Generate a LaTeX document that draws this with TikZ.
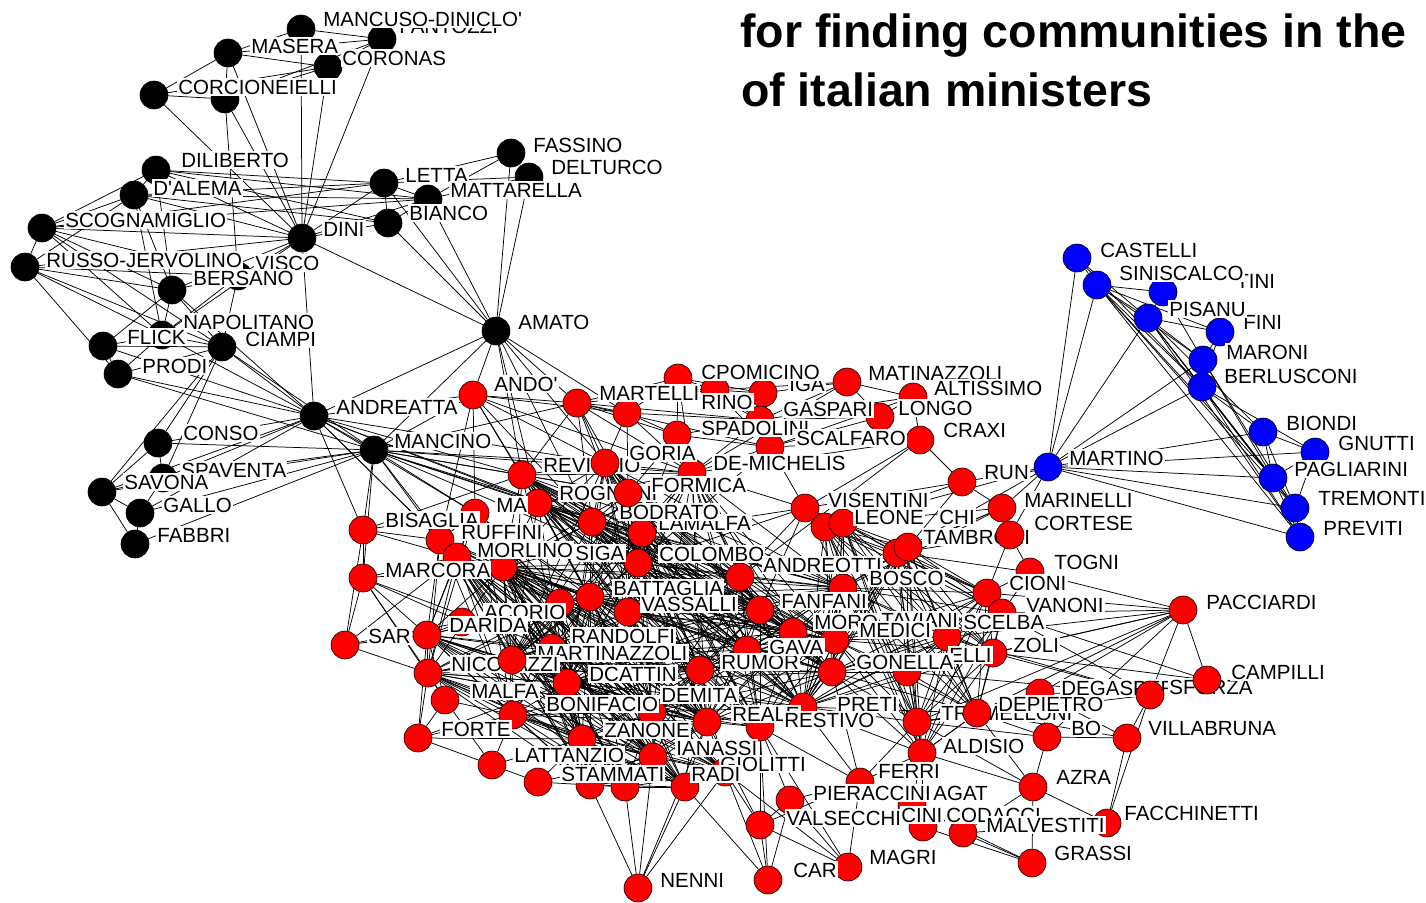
\documentclass[tikz,border=0pt]{standalone}
\usepackage{fontspec}
\setmainfont{Liberation Sans}
\newcommand\vlabelfont{\fontsize{20.5}{20.5}\selectfont}
\newcommand\headfont{\fontsize{46.5}{46.5}\selectfont\bfseries}
% every pair of the listed vertices gets a line
\newcommand\cliquelinks[1]{%
  \foreach \ca [count=\ci] in {#1}{%
    \foreach \cb [count=\cj] in {#1}{%
      \ifnum\cj>\ci\relax \draw[edge] (\ca) -- (\cb);\fi}}}
\pgfdeclarelayer{edges}
\pgfdeclarelayer{front}
\pgfsetlayers{edges,main,front}
\begin{document}
\begin{tikzpicture}[x=1pt,y=-1pt,
  vtx/.style={circle,draw=black,line width=0.6pt,minimum size=28pt,inner sep=0pt},
  vb/.style={vtx,fill=black},
  vr/.style={vtx,fill=red},
  vu/.style={vtx,fill=blue},
  lab/.style={anchor=west,fill=white,inner sep=1.2pt,text height=14.7pt,text depth=0.3pt,font=\vlabelfont},
  edge/.style={line width=0.75pt,black},
  head/.style={anchor=base west,inner sep=0pt,font=\headfont}]
\useasboundingbox (0,0) rectangle (1426,902);

% ---------- title ----------
\node[head] (t1) at (740,47) {for finding communities in the};
\node[head] (t2) at (741,106) {of italian ministers};

% ---------- vertices ----------
\foreach \n/\x/\y in {bMan/301/29, bFan/382/39, bMas/228/53, bCor/328/67, bCrc/154/95,
  bX1/225/99, bDil/156/170, bDal/134/195, bSco/42/228, bRus/25/267, bVis/238/276,
  bDin/302/238, bBia/388/223, bLet/384/183, bMat/428/199, bFas/511/153, bDel/529/177,
  bBer/172/290, bNap/162/335, bCia/222/347, bFli/103/346, bPro/118/374, bAma/496/331,
  bAnd/314/416, bMnc/374/450, bCon/158/443, bSpa/163/478, bSav/102/492, bGal/140/513,
  bFab/135/544}
  \node[vb] (\n) at (\x,\y) {};

\foreach \n/\x/\y in {rAndo/473/395, rMart/577/403, rQ1/627/413, rCpo/678/378, rQ2/715/390,
  rQ3/763/393, rMtz/847/382, rAlt/913/397, rGas/760/420, rLon/880/417, rCra/920/440,
  rSpd/677/435, rSca/770/447, rDem/692/473, rRev/522/475, rRog/538/503, rBod/592/522,
  rMa/475/513, rBis/363/530, rRuf/440/540, rLam/642/533, rMor/457/557, rSig/503/567,
  rCol/638/563, rMrc/363/578, rBat/590/597, rVas/628/612, rX7/560/603, rAco/462/622,
  rDar/427/635, rSar/345/645, rRan/552/648, rNic/428/673, rDca/567/683, rRum/700/670,
  rMal/445/700, rBon/513/715, rDmt/652/712, rFor2/418/738, rZan/582/739, rLat/492/765,
  rIan/653/757, rSta/538/782, rS1/590/785, rS2/625/787, rRad/685/787, rGio/725/772,
  rRea/707/722, rRes/760/727, rPre/803/707, rT1/917/722, rDeg/1040/693, rBo/1047/737,
  rVil/1127/738, rAld/922/753, rFer/860/782, rAzr/1033/787, rPie/790/800, rAga/912/805,
  rVal/760/825, rCin/923/827, rMlv/963/833, rFac/1107/823, rMag/848/867, rCar/768/880,
  rGra/1032/863, rNen/638/888, rVisen/805/508, rLeo1/825/527, rLeo2/843/523, rRun/962/482,
  rMrn/1002/508, rTam1/897/553, rTam2/908/547, rTog/1030/572, rFac2/987/593, rVan/1002/613,
  rPac/1183/610, rSce/947/637, rZol/993/653, rEll/907/672, rMed/835/640, rMoro/793/632,
  rFan/760/610, rBos/843/588, rAndr/740/577, rGav/747/650, rGon/832/672}
  \node[vr] (\n) at (\x,\y) {};

\foreach \n/\x/\y in {uCas/1077/258, uSin/1097/285, uTin/1163/292, uPis/1148/318,
  uFin/1220/332, uMaro/1203/360, uBer/1202/387, uBio/1263/432, uGnu/1315/452,
  uPag/1273/478, uTre/1295/508, uPre/1300/537}
  \node[vu] (\n) at (\x,\y) {};

% ---------- vertex labels ----------
\foreach \x/\y/\t [count=\k] in {398/26/FANTOZZI, 322/19/MANCUSO-DINICLO\textquotesingle,
  250/46/MASERA, 341/58/CORONAS, 177/87/CORCIONEIELLI, 180/160/DILIBERTO,
  152/188/D\textquotesingle ALEMA, 64/220/SCOGNAMIGLIO, 254/263/VISCO, 45/260/RUSSO-JERVOLINO,
  322/229/DINI, 408/213/BIANCO, 404/175/LETTA, 449/190/MATTARELLA, 532/145/FASSINO,
  550/167/DELTURCO, 192/278/BERSANO, 244/339/CIAMPI, 182/322/NAPOLITANO, 126/337/FLICK,
  141/366/PRODI, 517/322/AMATO, 335/407/ANDREATTA, 393/441/MANCINO, 182/433/CONSO,
  180/470/SPAVENTA, 123/482/SAVONA, 162/505/GALLO, 156/535/FABBRI}
  \node[lab] (lb\k) at (\x,\y) {\t};

\foreach \x/\y/\t [count=\k] in {493/384/ANDO\textquotesingle, 700/402/RINO, 598/393/MARTELLI,
  788/384/IGA, 700/372/CPOMICINO, 867/373/MATINAZZOLI, 933/388/ALTISSIMO,
  700/428/SPADOLINI, 782/409/GASPARI, 897/408/LONGO, 942/430/CRAXI, 795/438/SCALFARO,
  712/463/DE-MICHELIS, 542/465/REVIGLIO, 628/453/GORIA, 558/493/ROGNONI, 650/485/FORMICA,
  495/505/MA, 657/523/LAMALFA, 618/512/BODRATO, 384/520/BISAGLIA, 460/532/RUFFINI,
  574/553/SIGA, 476/550/MORLINO, 658/554/COLOMBO, 384/570/MARCORA, 612/588/BATTAGLIA,
  640/604/VASSALLI, 483/612/ACORIO, 367/636/SAR, 448/625/DARIDA, 570/636/RANDOLFI,
  536/653/MARTINAZZOLI, 450/664/NICOLAZZI, 588/674/DCATTIN, 720/662/RUMOR, 470/691/MALFA,
  660/695/DEMITA, 545/704/BONIFACIO, 440/729/FORTE, 603/730/ZANONE, 513/755/LATTANZIO,
  719/764/GIOLITTI, 675/748/IANASSI, 560/774/STAMMATI, 690/774/RADI, 731/714/REALE,
  836/704/PRETI, 783/720/RESTIVO, 940/713/TREMELLONI, 997/704/DEPIETRO, 1060/688/DEGASPERI,
  1168/687/SFORZA, 1070/728/BO, 1147/728/VILLABRUNA, 942/746/ALDISIO, 877/771/FERRI,
  1055/777/AZRA, 812/793/PIERACCINI, 932/793/AGAT, 785/818/VALSECCHI, 900/815/CINI,
  945/815/CODACCI, 985/825/MALVESTITI, 1123/813/FACCHINETTI, 868/857/MAGRI, 792/870/CAR,
  1053/853/GRASSI, 659/880/NENNI, 827/500/VISENTINI, 853/517/LEONE, 938/517/CHI,
  983/472/RUN, 1023/500/MARINELLI, 922/537/TAMBRONI, 1033/523/CORTESE, 1053/562/TOGNI,
  762/565/ANDREOTTI, 868/578/BOSCO, 1008/583/CIONI, 780/601/FANFANI, 1025/605/VANONI,
  1205/602/PACCIARDI, 813/622/MORO, 880/620/TAVIANI, 962/622/SCELBA, 858/630/MEDICI,
  768/647/GAVA, 1012/645/ZOLI, 948/655/ELLI, 855/662/GONELLA, 1230/672/CAMPILLI}
  \node[lab] (lr\k) at (\x,\y) {\t};

\foreach \x/\y/\t [count=\k] in {1099/250/CASTELLI, 1235/281/TINI, 1118/273/SINISCALCO,
  1242/322/FINI, 1168/309/PISANU, 1225/352/MARONI, 1223/376/BERLUSCONI, 1285/423/BIONDI,
  1337/443/GNUTTI, 1068/458/MARTINO, 1293/469/PAGLIARINI, 1317/498/TREMONTI,
  1322/528/PREVITI}
  \node[lab] (lu\k) at (\x,\y) {\t};

% vertices lying over neighbouring labels
\begin{pgfonlayer}{front}
\foreach \n/\x/\y in {rGor/605/463, rFor/628/493, rMtz2/512/660, rCrt/1010/535,
  rCam/1207/680, rSfo/1150/695, rDep/977/713}
  \node[vr] (\n) at (\x,\y) {};
\node[vu] (uMrt) at (1048,467) {};
\end{pgfonlayer}

% ---------- edges ----------
\begin{pgfonlayer}{edges}
% black group
\foreach \a/\b in {bDin/bMan, bDin/bCor, bDin/bFan, bDin/bMas, bDin/bX1, bDin/bCrc,
  bDin/bDil, bDin/bDal, bDin/bSco, bDin/bRus, bDin/bLet, bDin/bMat, bDin/bBia, bDin/bAma,
  bDin/bAnd, bDin/bBer, bDin/bVis, bDin/bNap,
  bLet/bDil, bLet/bDal, bLet/bFas, bLet/bDel, bLet/bAma, bLet/bMat, bLet/bSco,
  bMat/bDil, bMat/bDal, bMat/bFas, bMat/bDel, bMat/bAma, bMat/bSco,
  bBia/bDil, bBia/bDal, bBia/bAma, bBia/bLet, bBia/bMat,
  bFas/bDel, bFas/bAma, bDel/bAma,
  bMan/bFan, bMan/bMas, bMan/bCor, bFan/bMas, bFan/bCor, bFan/bX1, bMas/bCor, bMas/bCrc,
  bMas/bX1, bCor/bX1, bCor/bCrc, bCrc/bX1, bX1/bVis,
  bDil/bDal, bDil/bSco, bDil/bBer, bDal/bSco, bDal/bRus, bDal/bBer, bDal/bNap,
  bSco/bRus, bSco/bBer, bSco/bNap, bSco/bVis, bSco/bCia,
  bRus/bBer, bRus/bNap, bRus/bCia, bRus/bPro, bRus/bVis,
  bBer/bNap, bBer/bCia, bBer/bFli, bBer/bAnd, bBer/bVis,
  bNap/bCia, bNap/bFli, bNap/bPro, bNap/bAnd, bVis/bCia, bVis/bNap,
  bCia/bFli, bCia/bPro, bCia/bAnd, bCia/bCon, bCia/bSpa, bCia/bSav, bCia/bMnc,
  bFli/bPro, bFli/bAnd, bPro/bAnd, bPro/bMnc,
  bAnd/bCon, bAnd/bSpa, bAnd/bSav, bAnd/bGal, bAnd/bMnc, bAnd/bAma,
  bMnc/bCon, bMnc/bSpa, bMnc/bSav, bMnc/bGal, bMnc/bFab, bMnc/bAma,
  bCon/bSpa, bCon/bSav, bSav/bGal, bSav/bFab, bSav/bSpa, bGal/bFab, bSpa/bGal}
  \draw[edge] (\a) -- (\b);
% black to red
\foreach \a/\b in {bAma/rAndo, bAma/rMart, bAma/rQ1, bAma/rRev, bAma/rGor, bAma/rRog,
  bAma/rBod, bAnd/rBis, bAnd/rRev, bAnd/rRuf, bAnd/rMa, bAnd/rAndo, bAnd/rMor, bAnd/rBod,
  bAnd/rRog, bAnd/rGor, bMnc/rAndo, bMnc/rMart, bMnc/rRev, bMnc/rGor, bMnc/rRog, bMnc/rRuf,
  bMnc/rMa, bMnc/rBod, bMnc/rCol, bMnc/rMor, bMnc/rBis, bMnc/rFor, bMnc/rDem, bMnc/rLam,
  bMnc/rMrc}
  \draw[edge] (\a) -- (\b);
% red group, outer vertices
\foreach \a/\b in {rAndo/rMart, rAndo/rRev, rAndo/rGor, rAndo/rRog, rAndo/rBod, rAndo/rQ1,
  rAndo/rDem, rAndo/rMa, rAndo/rRuf,
  rMart/rQ1, rMart/rCpo, rMart/rGas, rMart/rSca, rMart/rDem, rMart/rGor, rMart/rRev,
  rMart/rBod, rMart/rCol, rMart/rFor, rMart/rSpd, rMart/rQ2,
  rQ1/rCpo, rQ1/rGas, rQ1/rDem, rQ1/rGor, rQ1/rSpd, rQ1/rFor,
  rCpo/rQ2, rCpo/rQ3, rCpo/rGas, rCpo/rDem, rCpo/rSpd,
  rQ2/rQ3, rQ2/rGas, rQ2/rSca, rQ2/rMtz, rQ3/rMtz, rQ3/rGas, rQ3/rSca,
  rMtz/rAlt, rMtz/rLon, rMtz/rGas, rMtz/rDem, rAlt/rLon, rAlt/rCra, rAlt/rGas, rAlt/rSca,
  rLon/rGas, rLon/rSca, rCra/rVisen, rCra/rSca, rCra/rAndr, rCra/rDem,
  rSca/rGas, rSca/rDem, rSca/rVisen, rSca/rCol, rSca/rSpd, rGas/rDem, rGas/rSpd,
  rSpd/rDem, rSpd/rFor, rSpd/rLam,
  rVisen/rLeo1, rVisen/rLeo2, rVisen/rDem, rVisen/rAndr, rVisen/rCol, rVisen/rBos,
  rVisen/rLam, rVisen/rFan,
  rRun/rMrn, rRun/rLeo2, rRun/rTam2, rRun/rVisen, rRun/rCra,
  rMrn/rCrt, rMrn/rLeo2, rMrn/rTam1, rMrn/rTam2, rMrn/rBos,
  rCrt/rTam1, rCrt/rTam2, rCrt/rTog, rCrt/rFac2,
  rBis/rRuf, rBis/rMor, rBis/rMrc, rBis/rSar, rBis/rMa, rBis/rRev,
  rMrc/rSar, rMrc/rDar, rMrc/rMor, rMrc/rNic, rMrc/rAco, rMrc/rSig, rMrc/rMal, rMrc/rRan,
  rSar/rDar, rSar/rNic, rSar/rMor, rSar/rX7,
  rDar/rNic, rDar/rMal, rDar/rMtz2, rDar/rAco, rDar/rFor2,
  rNic/rMal, rNic/rFor2, rNic/rMtz2, rNic/rDca,
  rMal/rFor2, rMal/rBon, rMal/rLat, rFor2/rLat, rFor2/rBon, rFor2/rZan, rFor2/rDca,
  rLat/rSta, rLat/rZan, rLat/rBon, rSta/rZan, rSta/rIan, rSta/rS1,
  rZan/rIan, rZan/rS1, rZan/rS2,
  rNen/rS1, rNen/rS2, rNen/rRad, rNen/rIan, rNen/rGio, rNen/rRea,
  rCar/rVal, rCar/rRad, rCar/rGio, rCar/rPie, rCar/rRes,
  rMag/rVal, rMag/rPie, rMag/rFer, rMag/rGio, rMag/rRes,
  rVal/rRes, rVal/rRea, rVal/rFer, rVal/rPie, rVal/rGio,
  rFer/rRes, rFer/rT1, rFer/rAld, rFer/rGon, rFer/rPre, rFer/rAga, rPie/rRes, rPie/rFer,
  rAld/rT1, rAld/rDep, rAld/rAzr, rAld/rCin, rAld/rAga,
  rAzr/rBo, rAzr/rDep, rAzr/rFac, rAzr/rGra, rAzr/rMlv, rAzr/rT1,
  rGra/rMlv, rGra/rCin, rGra/rAga, rFac/rVil, rFac/rSfo, rFac/rMlv,
  rVil/rSfo, rVil/rBo, rVil/rDep, rVil/rDeg,
  rSfo/rPac, rSfo/rDeg, rSfo/rZol, rSfo/rCam, rSfo/rVan, rSfo/rSce, rSfo/rEll, rSfo/rT1,
  rCam/rPac, rCam/rZol, rCam/rVan,
  rPac/rTog, rPac/rFac2, rPac/rVan, rPac/rSce, rPac/rZol, rPac/rDep, rPac/rDeg, rPac/rBo,
  rPac/rEll, rPac/rT1,
  rTog/rTam1, rTog/rFac2, rTog/rVan, rDep/rT1, rDep/rBo, rDep/rDeg, rBo/rT1, rBo/rDeg}
  \draw[edge] (\a) -- (\b);
% red group, dense core
\cliquelinks{rRev, rGor, rRog, rBod, rLam, rCol, rSig, rBat, rVas, rMtz2, rDca, rRum,
  rAndr, rFan, rMoro, rMed, rGav, rGon, rBos, rDmt, rRea, rRes, rPre, rDem, rFor}
\cliquelinks{rMor, rRuf, rMa, rX7, rRan, rSig, rBat, rMtz2, rDca, rBon, rDmt, rZan, rIan,
  rNic, rRum, rRea, rS1, rS2, rRad, rGio, rDar}
\cliquelinks{rLeo1, rLeo2, rTam1, rTam2, rBos, rMed, rGon, rEll, rSce, rZol, rVan, rFac2,
  rT1, rDep, rAld, rPre}
% blue group
\foreach \a/\b in {uCas/uSin, uCas/uPis, uCas/uMrt, uCas/uBer,
  uSin/uTin, uSin/uPis, uSin/uMaro, uSin/uBer, uSin/uPag, uSin/uTre, uSin/uPre, uSin/uMrt,
  uSin/uFin, uTin/uPis, uTin/uMaro,
  uPis/uFin, uPis/uMaro, uPis/uBer, uPis/uPag, uPis/uTre, uPis/uPre, uPis/uMrt, uPis/uBio,
  uFin/uMaro, uFin/uBer, uMaro/uBer, uMaro/uMrt, uMaro/uPag, uMaro/uTre,
  uBer/uMrt, uBer/uBio, uBer/uGnu, uBer/uPag, uBer/uTre, uBer/uPre,
  uBio/uGnu, uBio/uMrt, uBio/uPag, uBio/uTre, uGnu/uMrt, uGnu/uPag, uGnu/uTre,
  uPag/uTre, uPag/uMrt, uPag/uPre, uTre/uPre, uTre/uMrt, uPre/uMrt,
  uMrt/rRun, uMrt/rMrn, uMrt/rCrt, uMrt/rTam2, uMrt/rLeo2}
  \draw[edge] (\a) -- (\b);
\end{pgfonlayer}
\end{tikzpicture}
\end{document}
